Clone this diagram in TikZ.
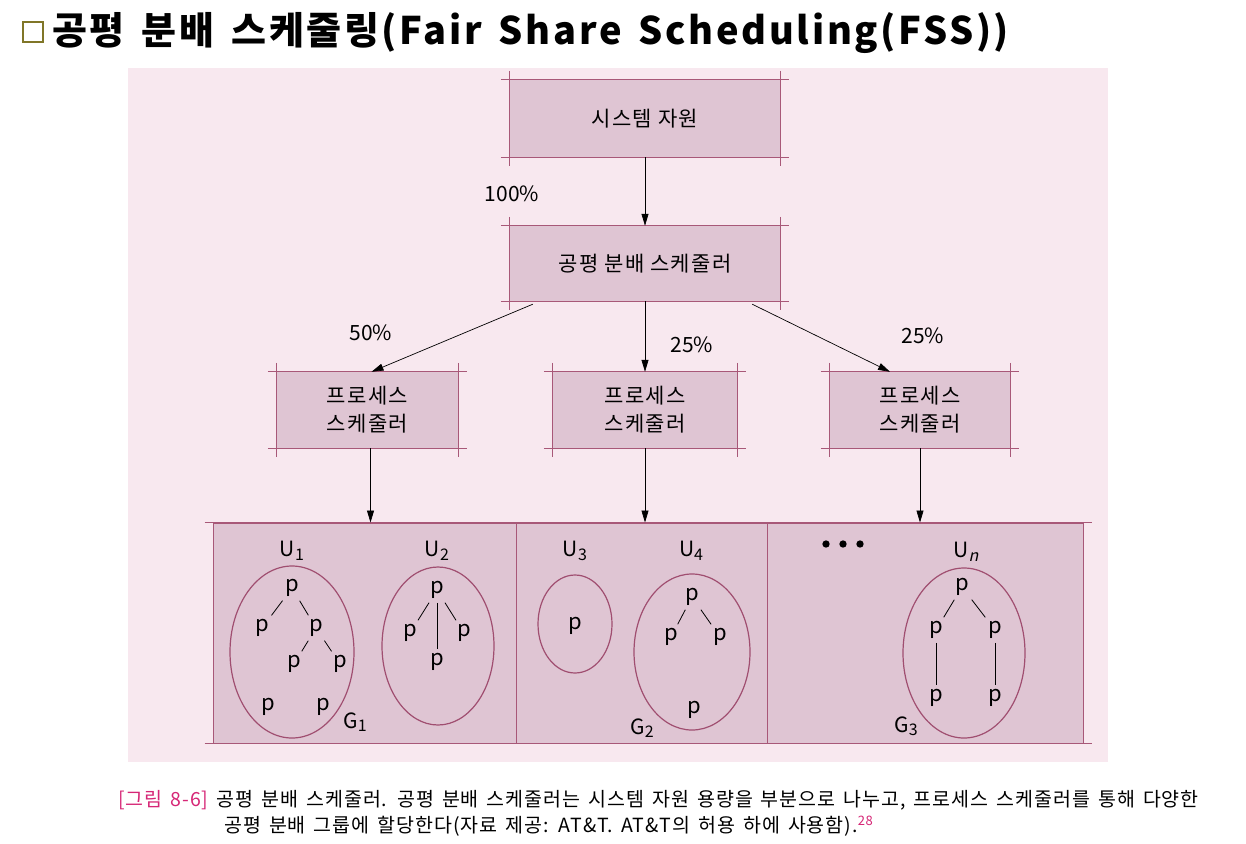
\documentclass[tikz,border=0pt]{standalone}
\usepackage{fontspec}
\setmainfont{Noto Sans CJK KR}
\newfontfamily\slantidx{Noto Sans CJK KR}[FakeSlant=0.22]
\newfontfamily\capfont{Noto Sans CJK KR}[LetterSpace=5,WordSpace=1.5]
\newfontfamily\headfont{Noto Sans CJK KR}[LetterSpace=7,WordSpace=1.5]
\usepackage{tikz}
\usetikzlibrary{arrows.meta,shapes.geometric,positioning}

\definecolor{bgpink}{RGB}{248,232,239}
\definecolor{boxfill}{RGB}{223,197,211}
\definecolor{boxline}{RGB}{168,88,120}
\definecolor{ringline}{RGB}{160,78,112}
\definecolor{markolive}{RGB}{128,118,40}
\definecolor{capmag}{RGB}{214,38,118}

% box with edges running past the corners
\newcommand\cropframe[1]{%
  \draw[frameline] ([xshift=-9pt]#1.north west) -- ([xshift=9pt]#1.north east);
  \draw[frameline] ([xshift=-9pt]#1.south west) -- ([xshift=9pt]#1.south east);
  \draw[frameline] ([yshift=9pt]#1.north west) -- ([yshift=-9pt]#1.south west);
  \draw[frameline] ([yshift=9pt]#1.north east) -- ([yshift=-9pt]#1.south east);}
\newcommand\lowidx[1]{\raisebox{-0.3ex}{\fontsize{16}{16}\selectfont #1}}

\begin{document}
\begin{tikzpicture}[x=1pt,y=-1pt,
  frameline/.style={boxline,line width=1pt},
  sched/.style={fill=boxfill,inner sep=0pt,align=center,
    font=\fontsize{21}{28}\selectfont\addfontfeature{LetterSpace=6}},
  group/.style={fill=boxfill,draw=boxline,line width=1pt,inner sep=0pt},
  user/.style={ellipse,draw=ringline,line width=1.2pt,inner sep=0pt},
  proc/.style={inner sep=3pt,font=\fontsize{22}{22}\selectfont},
  tag/.style={font=\fontsize{21}{21}\selectfont},
  link/.style={line width=0.8pt,shorten <=1pt,shorten >=1pt},
  arr/.style={-{Triangle[length=12pt,width=7pt]},line width=0.7pt},
  caption/.style={anchor=base west,inner sep=0pt,font=\capfont\fontsize{19.5}{22}\selectfont}]
\useasboundingbox (0,0) rectangle (1246,843);
\fill[white] (0,0) rectangle (1246,843);
\fill[bgpink] (128,68) rectangle (1108,762);

% Title
\node[draw=markolive,line width=2.6pt,minimum size=20pt,inner sep=0pt] (mark) at (33,32) {};
\node[anchor=base west,inner sep=0pt,font=\headfont\bfseries\fontsize{38}{40}\selectfont] (title) at (52,45)
  {공평 분배 스케줄링(Fair Share Scheduling(FSS))};

% Schedulers
\node[sched,minimum width=270pt,minimum height=77pt] (res) at (645,118.5) {시스템 자원};
\node[sched,minimum width=270pt,minimum height=75pt] (fss) at (645,263.5) {공평 분배 스케줄러};
\node[sched,minimum width=181pt,minimum height=76pt] (procA) at (367.5,410) {프로세스\\스케줄러};
\node[sched,minimum width=184pt,minimum height=76pt] (procB) at (645,410) {프로세스\\스케줄러};
\node[sched,minimum width=180pt,minimum height=76pt] (procC) at (920,410) {프로세스\\스케줄러};
\cropframe{res}
\cropframe{fss}
\cropframe{procA}
\cropframe{procB}
\cropframe{procC}

% Groups
\node[group,minimum width=303pt,minimum height=220pt] (grpA) at (364.5,633) {};
\node[group,minimum width=251pt,minimum height=220pt] (grpB) at (641.5,633) {};
\node[group,minimum width=316pt,minimum height=220pt] (grpC) at (925,633) {};
\draw[frameline] ([xshift=-8pt]grpA.north west) -- ([xshift=8pt]grpC.north east);
\draw[frameline] ([xshift=-8pt]grpA.south west) -- ([xshift=8pt]grpC.south east);

% Shares
\draw[arr] (res.south) -- (fss.north);
\draw[arr] ([xshift=23pt,yshift=-3pt]fss.south west) -- ([xshift=4pt]procA.north);
\draw[arr] (fss.south) -- (procB.north);
\draw[arr] ([xshift=-28pt,yshift=-3pt]fss.south east) -- ([xshift=-30pt]procC.north);
\node[tag] (pctAll) at (512,194) {100\%};
\node[tag] (pctA) at (371,333) {50\%};
\node[tag] (pctB) at (692,345) {25\%};
\node[tag] (pctC) at (923,336) {25\%};
\draw[arr] ([xshift=3pt]procA.south) -- ([xshift=3pt]procA.south |- grpA.north);
\draw[arr] (procB.south) -- (procB.south |- grpB.north);
\draw[arr] (procC.south) -- (procC.south |- grpC.north);

% Users of G1
\node[tag] (uA) at (292,551) {U\lowidx{1}};
\node[user,minimum width=124pt,minimum height=172pt] (userA) at (292,652) {};
\node[proc] (a1) at (292,588) {p};
\node[proc] (a2) at (262,628) {p};
\node[proc] (a3) at (316,628) {p};
\node[proc] (a4) at (294,664) {p};
\node[proc] (a5) at (340,664) {p};
\node[proc] (a6) at (268,707) {p};
\node[proc] (a7) at (323,707) {p};
\draw[link] (a1) -- (a2);
\draw[link] (a1) -- (a3);
\draw[link] (a3) -- (a4);
\draw[link] (a3) -- (a5);
\node[tag] (uB) at (437,551) {U\lowidx{2}};
\node[user,minimum width=112pt,minimum height=158pt] (userB) at (438,646) {};
\node[proc] (b1) at (437,590) {p};
\node[proc] (b2) at (410,633) {p};
\node[proc] (b3) at (464,633) {p};
\node[proc] (b4) at (437,662) {p};
\draw[link] (b1) -- (b2);
\draw[link] (b1) -- (b3);
\draw[link] (b1) -- (b4);
\node[tag] (gA) at (355,722) {G\lowidx{1}};

% Users of G2
\node[tag] (uC) at (575,551) {U\lowidx{3}};
\node[user,minimum width=74pt,minimum height=98pt] (userC) at (575,624) {};
\node[proc] (c1) at (575,626) {p};
\node[tag] (uD) at (691,551) {U\lowidx{4}};
\node[user,minimum width=116pt,minimum height=156pt] (userD) at (692,652) {};
\node[proc] (d1) at (692,597) {p};
\node[proc] (d2) at (671,637) {p};
\node[proc] (d3) at (720,637) {p};
\node[proc] (d4) at (694,710) {p};
\draw[link] (d1) -- (d2);
\draw[link] (d1) -- (d3);
\node[tag] (gB) at (642,728) {G\lowidx{2}};

% Users of G3
\node[circle,fill=black,inner sep=2.6pt] (dotA) at (826,544) {};
\node[circle,fill=black,inner sep=2.6pt] (dotB) at (843,544) {};
\node[circle,fill=black,inner sep=2.6pt] (dotC) at (860,544) {};
\node[tag] (uN) at (966,552) {U\lowidx{\slantidx n}};
\node[user,minimum width=122pt,minimum height=170pt] (userN) at (964,653) {};
\node[proc] (n1) at (962,587) {p};
\node[proc] (n2) at (936,630) {p};
\node[proc] (n3) at (995,630) {p};
\node[proc] (n4) at (936,698) {p};
\node[proc] (n5) at (995,698) {p};
\draw[link] (n1) -- (n2);
\draw[link] (n1) -- (n3);
\draw[link] (n2) -- (n4);
\draw[link] (n3) -- (n5);
\node[tag] (gC) at (906,726) {G\lowidx{3}};

% Caption
\node[caption] (capA) at (118,806)
  {\textcolor{capmag}{[그림 8-6]} 공평 분배 스케줄러. 공평 분배 스케줄러는 시스템 자원 용량을 부분으로 나누고, 프로세스 스케줄러를 통해 다양한};
\node[caption] (capB) at (224,832)
  {공평 분배 그룹에 할당한다(자료 제공: AT\&T. AT\&T의 허용 하에 사용함).\textcolor{capmag}{\raisebox{0.6ex}{\fontsize{13}{13}\selectfont 28}}};
\end{tikzpicture}
\end{document}
